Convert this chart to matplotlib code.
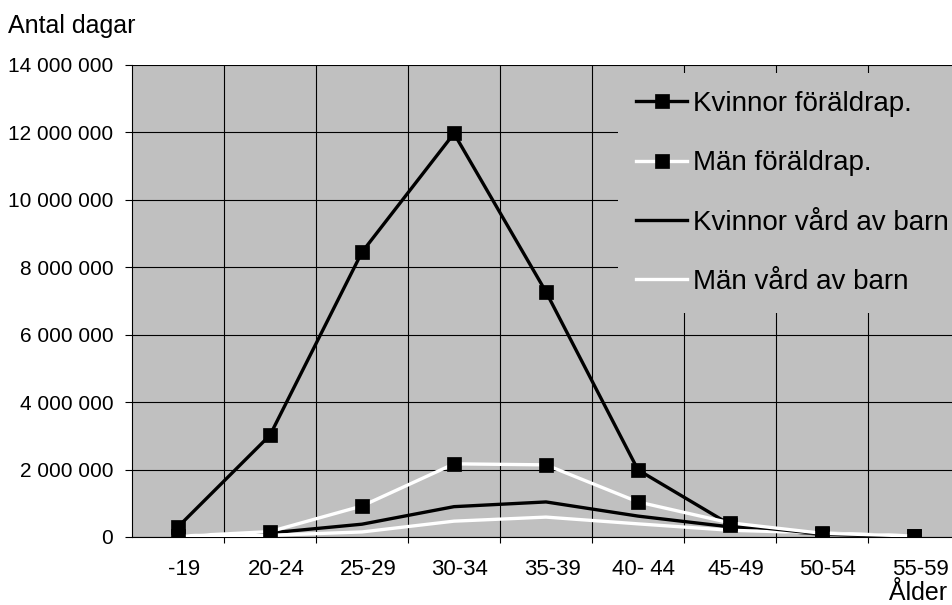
import matplotlib.pyplot as plt
from matplotlib.ticker import FuncFormatter
from matplotlib.transforms import ScaledTranslation

plt.rcParams['font.family'] = ['Liberation Sans', 'DejaVu Sans']

aldrar = ["-19", "20-24", "25-29", "30-34", "35-39", "40- 44", "45-49", "50-54", "55-59"]
kvinnor_foraldrap = [300000, 3020000, 8450000, 11970000, 7270000, 1990000, 370000, 90000, 20000]
man_foraldrap = [20000, 160000, 920000, 2170000, 2140000, 1040000, 420000, 110000, 30000]
kvinnor_vard = [20000, 120000, 380000, 900000, 1040000, 620000, 300000, 80000, 20000]
man_vard = [10000, 50000, 150000, 470000, 590000, 390000, 200000, 120000, 30000]

fig = plt.figure(figsize=(9.52, 6.05), dpi=100)
ax = fig.add_axes([132/952, 68/605, 828/952, 472/605])
ax.set_facecolor("#c0c0c0")

x = list(range(len(aldrar)))
ax.plot(x, kvinnor_foraldrap, color="black", lw=2.4, marker="s", ms=9.5,
        mfc="black", mec="black", mew=0.5, label="Kvinnor föräldrap.", zorder=4)
ax.plot(x, man_foraldrap, color="white", lw=2.4, marker="s", ms=9.5,
        mfc="black", mec="black", mew=0.5, label="Män föräldrap.", zorder=4)
ax.plot(x, kvinnor_vard, color="black", lw=2.4, label="Kvinnor vård av barn", zorder=3)
ax.plot(x, man_vard, color="white", lw=2.4, label="Män vård av barn", zorder=3)

ax.set_xlim(-0.5, len(aldrar) - 0.5)
ax.set_ylim(0, 14000000)
ax.set_yticks(range(0, 14000001, 2000000))
ax.yaxis.set_major_formatter(FuncFormatter(lambda v, p: f"{int(v):,}".replace(",", " ")))
ax.set_xticks(x)
ax.set_xticklabels(aldrar)
ax.set_xticks([i + 0.5 for i in x[:-1]], minor=True)
ax.tick_params(axis="x", which="major", length=0, pad=16, labelsize=16)
ax.tick_params(axis="x", which="minor", length=4.5, width=0.8, direction="out")
ax.tick_params(axis="y", length=5, width=0.8, labelsize=15, pad=8.5)
# category labels sit slightly right of the category centre
shift = ScaledTranslation(6/100, 0, fig.dpi_scale_trans)
for lbl in ax.get_xticklabels():
    lbl.set_transform(lbl.get_transform() + shift)
ax.grid(True, which="minor", axis="x", color="black", lw=0.8)
ax.grid(True, which="major", axis="y", color="black", lw=0.8)
ax.set_axisbelow(True)
for s in ["top", "right"]:
    ax.spines[s].set_visible(False)
ax.spines["left"].set_linewidth(0.8)
ax.spines["bottom"].set_linewidth(0.8)

leg = ax.legend(loc="upper left", bbox_to_anchor=(618/952, 1 - 73/605),
                bbox_transform=fig.transFigure, borderaxespad=0, fontsize=20,
                frameon=True, facecolor="#c0c0c0", edgecolor="none", framealpha=1,
                fancybox=False, handlelength=1.85, handletextpad=0.2,
                labelspacing=1.2, borderpad=0.65)
leg.set_zorder(5)

fig.text(8/952, 1 - 33/605, "Antal dagar", fontsize=18, va="baseline", ha="left")
fig.text(947/952, 1 - 600/605, "Ålder", fontsize=18, va="baseline", ha="right")

fig.savefig("out.png", dpi=100)
